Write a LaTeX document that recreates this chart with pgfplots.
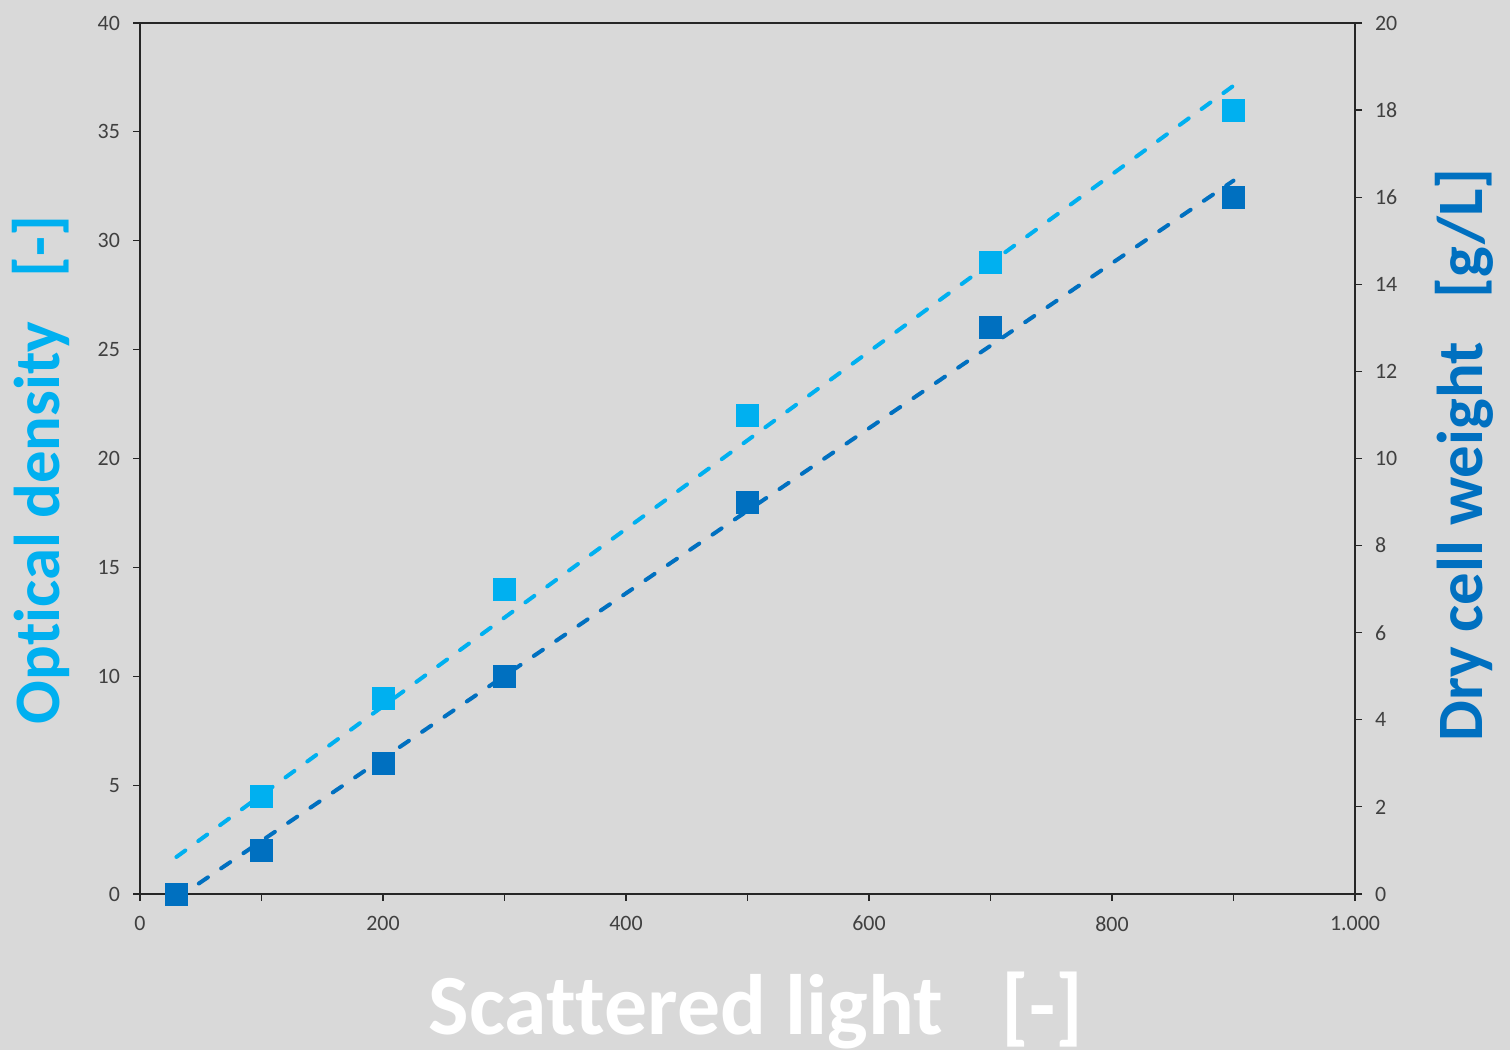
\documentclass[border=0pt]{standalone}
\usepackage{pgfplots}
\pgfplotsset{compat=1.18}
\usepackage{fontspec}
\setmainfont{Carlito}[Ligatures=NoCommon]
\definecolor{bg}{HTML}{D9D9D9}
\definecolor{lblue}{HTML}{00B0F0}
\definecolor{dblue}{HTML}{0070C0}
\definecolor{tickc}{HTML}{404040}
\begin{document}
\begin{tikzpicture}[x=1bp,y=1bp]
\fill[bg] (0,0) rectangle (755,525);
\path[use as bounding box] (0,0) rectangle (755,525);
\pgfplotsset{
  common/.style={
    at={(70bp,78bp)}, anchor=south west,
    scale only axis, width=607.5bp, height=435.5bp,
    xmin=0, xmax=1000,
    tick align=outside,
    major tick length=3.5bp,
    axis line style={black!85, line width=0.6bp},
    every tick/.style={black!85, line width=0.6bp},
    ticklabel style={font=\fontsize{11}{13}\selectfont, text=tickc},
    /pgf/number format/assume math mode=true,
  }
}
\begin{axis}[common,
  ymin=0, ymax=40,
  xtick={0,100,...,1000}, xticklabels={0,,200,,400,,600,,800,,1.000},
  ytick={0,5,...,40},
  tick pos=left,
  yticklabel style={xshift=-3bp},
  xticklabel style={yshift=-4bp},
]
\addplot[lblue, line width=2bp, dash pattern=on 5.5bp off 8bp, line cap=round, forget plot]
  coordinates {(30,1.70) (900,37.12)};
\addplot[only marks, mark=square*, mark size=5.5bp, mark options={fill=lblue, draw=lblue, rounded corners=0.8bp}]
  coordinates {(30,0) (100,4.5) (200,9) (300,14) (500,22) (700,29) (900,36)};
\end{axis}
\begin{axis}[common,
  ymin=0, ymax=20,
  axis x line=none, axis y line*=right,
  ytick={0,2,...,20},
  yticklabel style={xshift=3bp},
]
\addplot[dblue, line width=2bp, dash pattern=on 5.5bp off 8bp, line cap=round, forget plot]
  coordinates {(30,-0.108) (900,16.38)};
\addplot[only marks, mark=square*, mark size=5.5bp, mark options={fill=dblue, draw=dblue, rounded corners=0.8bp}]
  coordinates {(30,0) (100,1) (200,3) (300,5) (500,9) (700,13) (900,16)};
\end{axis}
\node[rotate=90, anchor=base, font=\fontsize{32.5}{36}\selectfont\bfseries, text=lblue] at (29.5,290) {Optical density\ \ \ [-]};
\node[rotate=90, anchor=base, font=\fontsize{32.5}{36}\selectfont\bfseries, text=dblue] at (741,297.5) {Dry cell weight\ \ \ [g/L]};
\node[anchor=base, font=\fontsize{43}{48}\selectfont\bfseries, text=white] at (378,7.5) {Scat\kern0pt tered light\ \ \ [-]};
\end{tikzpicture}
\end{document}
